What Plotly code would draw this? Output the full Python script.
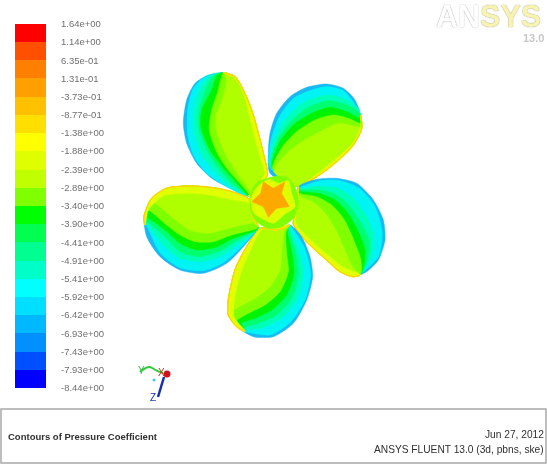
import plotly.graph_objects as go

# --- Colour bar ---
LEVELS = [-8.44, -7.93, -7.43, -6.93, -6.42, -5.92, -5.41, -4.91, -4.41, -3.90, -3.40,
          -2.89, -2.39, -1.88, -1.38, -0.877, -0.373, 0.131, 0.635, 1.14, 1.64]
LEVEL_LABELS = ["-8.44e+00", "-7.93e+00", "-7.43e+00", "-6.93e+00", "-6.42e+00", "-5.92e+00",
                "-5.41e+00", "-4.91e+00", "-4.41e+00", "-3.90e+00", "-3.40e+00", "-2.89e+00",
                "-2.39e+00", "-1.88e+00", "-1.38e+00", "-8.77e-01", "-3.73e-01", "1.31e-01",
                "6.35e-01", "1.14e+00", "1.64e+00"]
BAND_COLORS = ["#0000ff", "#0050ff", "#0090ff", "#00b8ff", "#00dfff", "#00ffff", "#00ffc8",
               "#00ff90", "#00ff50", "#00ff00", "#7fff00", "#bfff00", "#dfff00", "#ffff00",
               "#ffdf00", "#ffc000", "#ffa000", "#ff8000", "#ff5000", "#ff0000"]
BAND_INDEX = list(range(20))

CYAN_BLUE = "#18b8f0"
BLADE_BANDS = ["#00f4f4", "#00ffb8", "#00ff70", "#00f400", "#80ff00", "#b0ff00", "#e0ff00"]

# --- Blades, contour lines (1 unit = 1/3 px) ---
A_OUTLINE = [(355, 408), (300, 385), (245, 355), (200, 310), (170, 250), (160, 190), (170, 120),
             (195, 70), (235, 45), (280, 38), (315, 50), (340, 90), (365, 150), (385, 220),
             (400, 280), (412, 345), (395, 370)]
A_FAR_EDGE = [(355, 408), (395, 370), (412, 345), (400, 280), (385, 220), (365, 150), (340, 90),
              (315, 50), (280, 38)]
A_CURVES = [
    [(225, 50), (190, 85), (173, 150), (173, 225), (190, 285), (225, 335), (270, 368), (340, 405)],
    [(240, 48), (208, 90), (193, 150), (193, 215), (213, 280), (250, 330), (290, 370), (345, 405)],
    [(252, 46), (228, 85), (208, 150), (208, 210), (230, 270), (265, 325), (305, 370), (350, 405)],
    [(262, 45), (245, 90), (215, 150), (212, 200), (240, 270), (280, 325), (320, 370), (352, 405)],
    [(272, 60), (262, 100), (245, 150), (238, 210), (262, 280), (295, 330), (330, 370), (358, 405)],
    [(290, 60), (275, 125), (258, 165), (260, 215), (285, 280), (315, 330), (345, 372), (362, 400)],
    [(320, 58), (345, 115), (358, 170), (376, 240), (392, 300), (404, 340)],
]

B_OUTLINE = [(420, 340), (415, 280), (420, 220), (440, 160), (480, 110), (530, 82), (590, 72),
             (640, 85), (675, 120), (692, 165), (695, 205), (670, 255), (620, 305), (560, 350),
             (505, 380)]
B_FAR_EDGE = [(692, 165), (695, 205), (670, 255), (620, 305), (560, 350), (505, 380)]
B_CURVES = [
    [(420, 322), (422, 245), (448, 170), (495, 112), (585, 80), (637, 90), (670, 125), (692, 165)],
    [(422, 320), (432, 245), (465, 180), (520, 128), (590, 105), (640, 115), (685, 145), (692, 165)],
    [(424, 320), (440, 245), (478, 190), (530, 145), (595, 122), (650, 135), (690, 160)],
    [(426, 320), (450, 245), (490, 195), (545, 160), (600, 142), (650, 155), (692, 175)],
    [(428, 325), (458, 260), (500, 215), (555, 180), (610, 165), (655, 175), (692, 190)],
    [(432, 335), (470, 280), (515, 245), (570, 215), (625, 190), (692, 200)],
    [(520, 372), (565, 338), (622, 292), (672, 245), (692, 200)],
]

C_OUTLINE = [(505, 380), (560, 358), (620, 355), (680, 370), (730, 420), (760, 480), (765, 540),
             (745, 600), (710, 635), (670, 650), (630, 635), (590, 600), (540, 555), (500, 510),
             (490, 490), (500, 440)]
C_FAR_EDGE = [(690, 645), (670, 650), (630, 635), (590, 600), (540, 555), (500, 510), (490, 490),
              (500, 440), (505, 380)]
C_CURVES = [
    [(505, 382), (570, 362), (630, 362), (688, 385), (735, 440), (757, 520), (745, 590), (695, 640)],
    [(505, 385), (570, 378), (625, 385), (670, 415), (710, 470), (732, 530), (725, 585), (695, 640)],
    [(505, 388), (570, 390), (620, 405), (660, 440), (695, 495), (718, 545), (712, 600), (695, 640)],
    [(505, 392), (565, 400), (615, 420), (650, 455), (680, 505), (705, 570), (700, 625)],
    [(505, 398), (560, 410), (605, 435), (640, 475), (665, 525), (690, 590), (695, 625)],
    [(505, 405), (555, 430), (590, 465), (620, 515), (640, 560), (670, 625)],
    [(498, 490), (540, 538), (590, 582), (640, 622), (688, 642)],
]

D_OUTLINE = [(480, 495), (515, 530), (540, 590), (548, 650), (530, 720), (490, 790), (430, 830),
             (370, 830), (320, 800), (295, 765), (295, 720), (315, 630), (350, 560), (390, 505),
             (440, 510)]
D_FAR_EDGE = [(345, 815), (320, 800), (295, 765), (295, 720), (315, 630), (350, 560), (390, 505),
              (440, 510), (480, 495)]
D_CURVES = [
    [(482, 498), (522, 560), (542, 640), (525, 720), (480, 788), (420, 825), (345, 815)],
    [(478, 500), (505, 565), (520, 640), (500, 720), (455, 775), (395, 805), (345, 810)],
    [(476, 505), (495, 570), (505, 640), (485, 715), (440, 765), (385, 790), (340, 805)],
    [(472, 510), (485, 575), (492, 640), (470, 705), (425, 750), (375, 775), (335, 790)],
    [(468, 515), (470, 580), (475, 635), (450, 695), (405, 735), (355, 760), (318, 785)],
    [(462, 515), (455, 575), (450, 630), (420, 680), (375, 715), (320, 745), (300, 760)],
    [(395, 510), (362, 570), (332, 640), (315, 710), (312, 770), (345, 812)],
]

E_OUTLINE = [(385, 500), (340, 560), (290, 610), (220, 640), (150, 630), (90, 590), (50, 530),
             (42, 470), (65, 415), (110, 385), (180, 378), (260, 385), (320, 400), (360, 420),
             (365, 460)]
E_FAR_EDGE = [(45, 495), (42, 470), (65, 415), (110, 385), (180, 378), (260, 385), (320, 400),
              (360, 420), (365, 460), (385, 500)]
E_CURVES = [
    [(385, 503), (330, 565), (280, 608), (220, 632), (150, 623), (90, 578), (48, 495)],
    [(384, 506), (320, 555), (270, 590), (210, 605), (150, 595), (100, 555), (46, 490)],
    [(382, 508), (315, 545), (265, 575), (205, 590), (150, 575), (105, 530), (45, 482)],
    [(380, 510), (310, 535), (258, 562), (200, 570), (150, 550), (105, 510), (45, 470)],
    [(378, 506), (305, 525), (250, 545), (195, 545), (150, 525), (110, 495), (52, 450)],
    [(370, 490), (295, 505), (235, 520), (180, 510), (130, 475), (90, 440), (60, 425)],
    [(360, 432), (300, 418), (240, 405), (170, 400), (100, 408), (55, 450)],
]

BLADES = [(A_OUTLINE, A_FAR_EDGE, A_CURVES), (B_OUTLINE, B_FAR_EDGE, B_CURVES),
          (C_OUTLINE, C_FAR_EDGE, C_CURVES), (D_OUTLINE, D_FAR_EDGE, D_CURVES),
          (E_OUTLINE, E_FAR_EDGE, E_CURVES)]

# --- Hub ---
HUB_RING = [(430, 350), (470, 352), (497, 385), (505, 430), (490, 475), (455, 500), (415, 505),
            (380, 485), (362, 450), (360, 405), (380, 368)]
HUB_INNER = [(415, 358), (445, 370), (475, 362), (485, 400), (495, 440), (465, 462), (430, 490),
             (400, 478), (372, 460), (362, 420), (378, 385)]
HUB_STAR = [(400, 365), (430, 385), (465, 365), (455, 400), (478, 440), (440, 445), (415, 472),
            (400, 440), (365, 425), (392, 400)]

# --- Triad ---
TRIAD_Y = [(30, 936), (45, 925), (60, 921), (80, 932), (99, 939)]
TRIAD_Z = [(102, 951), (84, 1011)]
TRIAD_ORIGIN = (111, 942)
TRIAD_DOT = (72, 960)


def polygon(points, color, shape="spline"):
    xs, ys = zip(*points)
    return go.Scatter(
        x=list(xs) + [xs[0]], y=list(ys) + [ys[0]], mode="lines", fill="toself", fillcolor=color,
        line=dict(color=color, width=0.5, shape=shape, smoothing=0.7), hoverinfo="skip",
    )


def line(points, color, width):
    xs, ys = zip(*points)
    return go.Scatter(x=xs, y=ys, mode="lines", hoverinfo="skip",
                      line=dict(color=color, width=width, shape="spline", smoothing=0.7))


fig = go.Figure()

for outline, far_edge, curves in BLADES:
    fig.add_trace(polygon(outline, CYAN_BLUE))
    for curve, color in zip(curves, BLADE_BANDS):
        fig.add_trace(polygon(curve + far_edge, color))
    fig.add_trace(line(far_edge, "#ffe800", 1.5))
    fig.add_trace(line(far_edge, "#ffb000", 0.5))

fig.add_trace(polygon(HUB_RING, "#7fff00"))
fig.add_trace(polygon(HUB_INNER, "#dfff00"))
fig.add_trace(polygon(HUB_STAR, "#ffa800", shape="linear"))

fig.add_trace(line(TRIAD_Y, "#2fc83c", 2))
fig.add_trace(line(TRIAD_Z, "#1a2fb0", 2.5))
fig.add_trace(go.Scatter(x=[TRIAD_ORIGIN[0]], y=[TRIAD_ORIGIN[1]], mode="markers",
                         marker=dict(color="#d01020", size=7), hoverinfo="skip"))
fig.add_trace(go.Scatter(x=[TRIAD_DOT[0]], y=[TRIAD_DOT[1]], mode="markers",
                         marker=dict(color="#30d8d0", size=3), hoverinfo="skip"))

fig.add_trace(go.Heatmap(
    x=[0, 1], y=LEVELS, z=[[i] for i in BAND_INDEX],
    colorscale=[[i / 19, c] for i, c in enumerate(BAND_COLORS)],
    showscale=False, xaxis="x2", yaxis="y2", hoverinfo="skip",
))

fig.update_layout(
    width=547, height=464, showlegend=False,
    margin=dict(l=0, r=0, t=0, b=0),
    paper_bgcolor="white", plot_bgcolor="white",
    font=dict(family="Liberation Sans, Arial, sans-serif"),
    xaxis=dict(domain=[0, 1], range=[-390, 1251], visible=False, automargin=False),
    yaxis=dict(domain=[0, 1], range=[1212, -180], visible=False, automargin=False),
    xaxis2=dict(domain=[15 / 547, 46 / 547], range=[0, 1], visible=False, anchor="y2",
                automargin=False),
    yaxis2=dict(
        domain=[76 / 464, 440 / 464], range=[-8.44, 1.64], anchor="x2", side="right",
        tickmode="array", tickvals=LEVELS, ticktext=LEVEL_LABELS, ticks="", showgrid=False,
        zeroline=False, showline=False, ticklabelstandoff=14, automargin=False,
        tickfont=dict(size=9.5, color="#707070"),
    ),
    shapes=[dict(type="rect", xref="paper", yref="paper", x0=1 / 547, x1=546 / 547,
                 y0=1 / 464, y1=55 / 464, line=dict(color="#a8a8a8", width=1.5))],
)

for text, x, y in [("Y", 35, 930), ("X", 93, 936), ("Z", 69, 1011)]:
    color = {"Y": "#2fc83c", "X": "#b04020", "Z": "#1a2fb0"}[text]
    fig.add_annotation(x=x, y=y, text=text, showarrow=False, font=dict(size=10, color=color))


def page_text(text, x, y, anchor, size, color="#303030", **font):
    fig.add_annotation(
        xref="paper", yref="paper", x=x / 547, y=1 - y / 464, text=text, showarrow=False,
        xanchor=anchor, yanchor="middle", font=dict(size=size, color=color, **font),
    )


page_text("<b>Contours of Pressure Coefficient</b>", 6, 436, "left", 9.5)
page_text("Jun 27, 2012", 546, 434, "right", 10.2)
page_text("ANSYS FLUENT 13.0 (3d, pbns, ske)", 546, 449, "right", 10.2)
page_text('<span style="color:#ffffff">AN</span><span style="color:#f8f4b0">SYS</span>',
          434, 16, "left", 30.5, family="Liberation Sans", weight=700,
          shadow="0 0 1px #a8a8a8, 0 0 1px #a8a8a8")
page_text("<b>13.0</b>", 546, 38, "right", 11, color="#c8c8c8")

# the default page margin would push the figure 8px off the window
fig.write_html(
    "out.html",
    config={"displayModeBar": False},
    post_script="document.body.style.margin = '0';"
                "document.querySelector('.plotly-graph-div').style.filter = 'blur(0.5px)';",
)
